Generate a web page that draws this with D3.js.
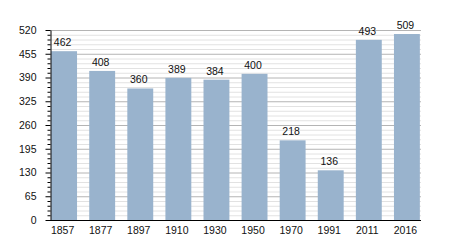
<!DOCTYPE html>
<html><head><meta charset="utf-8">
<script src="https://cdn.jsdelivr.net/npm/d3@7"></script>
<style>body{margin:0;background:#fff}svg{display:block}</style>
</head><body>
<script>
const years = ["1857","1877","1897","1910","1930","1950","1970","1991","2011","2016"];
const population = [462,408,360,389,384,400,218,136,493,509];
const yTicks = [0,65,130,195,260,325,390,455,520];
const minorStep = 13;

const W=450,H=250, mLeft=50, mRight=421, mTop=30, mBottom=220;
const FONT="Liberation Sans, Arial, sans-serif";
const svg=d3.select("body").append("svg").attr("width",W).attr("height",H);
const x=d3.scaleBand().domain(years).range([mLeft,mRight]).paddingInner(0.32).paddingOuter(0.03);
const y=d3.scaleLinear().domain([0,520]).range([mBottom,mTop]);
const minor=d3.range(0,521,minorStep);

// gridlines
svg.append("g").selectAll("line").data(minor.filter(v=>v%65!==0)).join("line")
  .attr("x1",mLeft).attr("x2",mRight).attr("y1",d=>y(d)+0.5).attr("y2",d=>y(d)+0.5)
  .attr("stroke","#e2e2e2").attr("stroke-width",1);
svg.append("g").selectAll("line").data(yTicks.filter(v=>v>0)).join("line")
  .attr("x1",mLeft).attr("x2",mRight).attr("y1",d=>y(d)+0.5).attr("y2",d=>y(d)+0.5)
  .attr("stroke","#b4b4b4").attr("stroke-width",1);

// bars
svg.append("g").selectAll("rect").data(years).join("rect")
  .attr("x",d=>x(d)).attr("width",x.bandwidth())
  .attr("y",(d,i)=>y(population[i])).attr("height",(d,i)=>mBottom-y(population[i]))
  .attr("fill","#99b3cd");

// value labels
svg.append("g").selectAll("text").data(years).join("text")
  .attr("x",d=>x(d)+x.bandwidth()/2-1.5).attr("y",(d,i)=>y(population[i])-5)
  .attr("text-anchor","middle").attr("font-family",FONT)
  .attr("font-size",10.5).attr("fill","#111").text((d,i)=>population[i]);

// y axis
const ya=svg.append("g").attr("transform",`translate(${mLeft+0.5},0)`);
ya.call(d3.axisLeft(y).tickValues(yTicks).tickSize(5).tickPadding(9).tickSizeOuter(0));
ya.selectAll(".tick text").attr("font-family",FONT).attr("font-size",10.5).attr("fill","#111");
ya.select(".domain").attr("stroke","#000");
ya.selectAll(".minor").data(minor.filter(v=>v%65!==0)).join("line").attr("class","minor")
  .attr("x1",-3).attr("x2",0).attr("y1",d=>y(d)+0.5).attr("y2",d=>y(d)+0.5).attr("stroke","#000");

// x axis
const xa=svg.append("g").attr("transform",`translate(0,${mBottom+0.5})`);
xa.call(d3.axisBottom(x).tickSize(0).tickPadding(6).tickSizeOuter(0));
xa.select(".domain").attr("stroke","#000").attr("d",`M${mLeft-4},0H${mRight}`);
xa.selectAll(".tick text").attr("font-family",FONT).attr("font-size",10.5).attr("fill","#111").attr("dx",-1.5);
</script>
</body></html>
